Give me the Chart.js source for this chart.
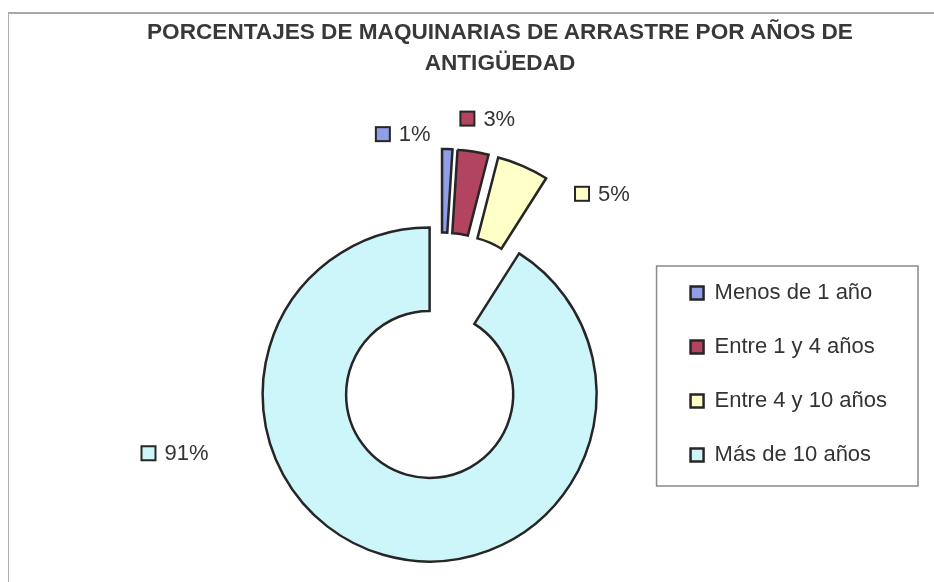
<!DOCTYPE html>
<html>
<head>
<meta charset="utf-8">
<script src="https://cdn.jsdelivr.net/npm/chart.js"></script>
<style>
  body { margin: 0; background: #fff; }
  #wrap { position: relative; width: 934px; height: 582px; overflow: hidden; }
  #frame { position: absolute; left: 8px; top: 12px; right: -4px; bottom: -4px;
           border-left: 1px solid #b0b0b0; border-top: 2px solid #a8a8a8; }
  #titulo { position: absolute; left: 100px; width: 800px; top: 16px; text-align: center;
            font: bold 22.6px "Liberation Sans", Arial, sans-serif; line-height: 31px; color: #383838; }
  canvas { position: absolute; left: 0; top: 0; }
</style>
</head>
<body>
<div id="wrap">
  <div id="frame"></div>
  <canvas id="graph1" width="934" height="582"></canvas>
  <div id="titulo">PORCENTAJES DE MAQUINARIAS DE ARRASTRE POR AÑOS DE<br>ANTIGÜEDAD</div>
</div>
<script>
var categorias = ['Menos de 1 año', 'Entre 1 y 4 años', 'Entre 4 y 10 años', 'Más de 10 años'];
var porcentajes = [1, 3, 5, 91];
var etiquetas = ['1%', '3%', '5%', '91%'];

var colores = ['#8f9ee6', '#b2445f', '#ffffc8', '#cdf6fa'];
var borde = '#262626';

// porciones separadas del centro (px)
var separacion = 40;
// rótulos: ángulo (grados desde arriba, horario) y distancia fuera del anillo
var rotuloAngulo = [-9.6, 11.2, 44.9, 249.9];
var rotuloDist = [58, 75, 62, 116];

var explotar = {
  id: 'explotar',
  beforeDatasetsDraw: function(chart) {
    var ctx = chart.ctx;
    var arcs = chart.getDatasetMeta(0).data;
    arcs.forEach(function(arc) {
      var mid = (arc.startAngle + arc.endAngle) / 2;
      ctx.save();
      ctx.translate(Math.cos(mid) * separacion, Math.sin(mid) * separacion);
      arc.draw(ctx);
      ctx.restore();
    });

    ctx.save();
    ctx.font = '22px "Liberation Sans", Arial, sans-serif';
    ctx.textBaseline = 'middle';
    ctx.textAlign = 'left';
    arcs.forEach(function(arc, i) {
      var a = rotuloAngulo[i] * Math.PI / 180;
      var r = arc.outerRadius + rotuloDist[i];
      var cx = arc.x + Math.sin(a) * r;
      var cy = arc.y - Math.cos(a) * r;
      var txt = etiquetas[i];
      var w = 15 + 8 + ctx.measureText(txt).width;
      var x0 = cx - w / 2;
      ctx.fillStyle = colores[i];
      ctx.strokeStyle = borde;
      ctx.lineWidth = 2;
      ctx.fillRect(x0, cy - 7, 14, 14);
      ctx.strokeRect(x0, cy - 7, 14, 14);
      ctx.fillStyle = '#333';
      ctx.fillText(txt, x0 + 23, cy + 1);
    });
    ctx.restore();
    return false;
  }
};

var marcoLeyenda = {
  id: 'marcoLeyenda',
  afterDraw: function(chart) {
    var hb = chart.legend.legendHitBoxes;
    if (!hb || !hb.length) return;
    var left = hb[0].left - 34;
    var top = hb[0].top - 16;
    var right = Math.max.apply(null, hb.map(function(h) { return h.left + h.width; })) + 31;
    var last = hb[hb.length - 1];
    var bottom = last.top + last.height + 20;
    var ctx = chart.ctx;
    ctx.save();
    ctx.strokeStyle = '#8a8a8a';
    ctx.lineWidth = 1.5;
    ctx.strokeRect(left, top, right - left, bottom - top);
    ctx.restore();
  }
};

let graph1 = document.getElementById('graph1').getContext('2d');
var char = new Chart(graph1, {
  type: 'doughnut',
  data: {
    labels: categorias,
    datasets: [{
      data: porcentajes,
      backgroundColor: colores,
      borderColor: borde,
      borderWidth: 2.5,
      borderJoinStyle: 'miter',
      radius: 167,
      cutout: '50%'
    }]
  },
  options: {
    responsive: false,
    animation: false,
    events: [],
    layout: {
      padding: { left: 223, right: 37, top: 214, bottom: 84 }
    },
    plugins: {
      title: { display: false },
      tooltip: { enabled: false },
      legend: {
        position: 'right',
        align: 'end',
        fullSize: false,
        labels: {
          boxWidth: 13,
          boxHeight: 13,
          padding: 32,
          color: '#333',
          font: { family: '"Liberation Sans", Arial, sans-serif', size: 22 }
        }
      }
    }
  },
  plugins: [explotar, marcoLeyenda]
});
</script>
</body>
</html>
